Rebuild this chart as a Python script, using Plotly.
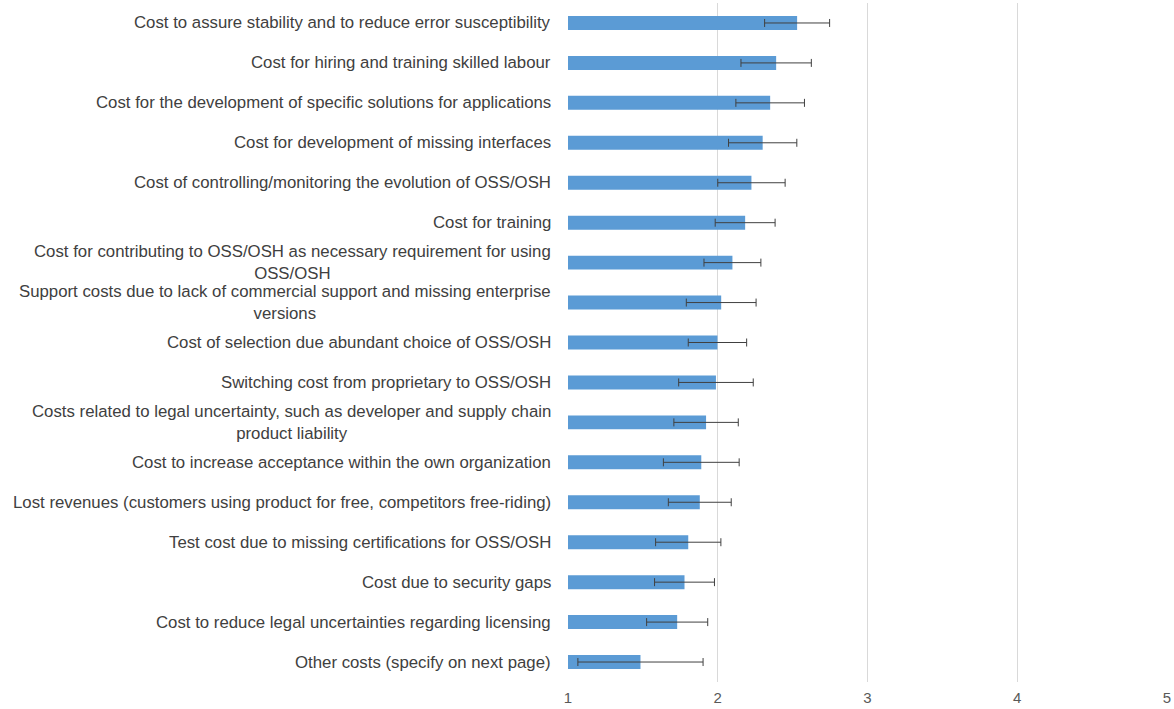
import plotly.graph_objects as go

categories = [
    "Cost to assure stability and to reduce error susceptibility",
    "Cost for hiring and training skilled labour",
    "Cost for the development of specific solutions for applications",
    "Cost for development of missing interfaces",
    "Cost of controlling/monitoring the evolution of OSS/OSH",
    "Cost for training",
    "Cost for contributing to OSS/OSH as necessary requirement for using<br>OSS/OSH",
    "Support costs due to lack of commercial support and missing enterprise<br>versions",
    "Cost of selection due abundant choice of OSS/OSH",
    "Switching cost from proprietary to OSS/OSH",
    "Costs related to legal uncertainty, such as developer and supply chain<br>product liability",
    "Cost to increase acceptance within the own organization",
    "Lost revenues (customers using product for free, competitors free-riding)",
    "Test cost due to missing certifications for OSS/OSH",
    "Cost due to security gaps",
    "Cost to reduce legal uncertainties regarding licensing",
    "Other costs (specify on next page)",
]

means = [2.53, 2.39, 2.35, 2.30, 2.225, 2.183, 2.098, 2.023, 1.998, 1.988,
         1.922, 1.89, 1.88, 1.803, 1.778, 1.729, 1.484]
errors = [0.217, 0.235, 0.229, 0.228, 0.225, 0.2, 0.19, 0.233, 0.195, 0.249,
          0.215, 0.253, 0.21, 0.218, 0.2, 0.204, 0.418]

x_ticks = [1, 2, 3, 4, 5]

fig = go.Figure()
fig.add_trace(go.Bar(
    y=categories,
    x=means,
    orientation="h",
    marker=dict(color="#5B9BD5", line=dict(width=0)),
    width=0.35,
    error_x=dict(type="data", array=errors, visible=True,
                 color="#404040", thickness=1, width=4),
    showlegend=False,
))

for c in categories:
    fig.add_annotation(
        x=0, xref="paper", xanchor="right", xshift=-15,
        y=c, yref="y", yanchor="middle",
        text=c, showarrow=False, align="center",
        font=dict(family="Liberation Sans, Arial", size=16.8, color="#404040"),
    )

fig.update_layout(
    width=1174, height=709,
    margin=dict(l=568, r=5, t=3, b=25),
    plot_bgcolor="white", paper_bgcolor="white",
    xaxis=dict(
        range=[1, 5], tickvals=x_ticks, ticktext=[str(v) for v in x_ticks],
        showgrid=True, gridcolor="#d9d9d9", gridwidth=1,
        zeroline=False, showline=False, ticklabelstandoff=5,
        tickfont=dict(family="Liberation Sans, Arial", size=15, color="#595959"),
    ),
    yaxis=dict(
        autorange="reversed", showticklabels=False, showgrid=False,
        zeroline=False, showline=False,
    ),
)

fig.write_html("out.html", config={"displayModeBar": False},
               post_script="document.body.style.margin='0';")
